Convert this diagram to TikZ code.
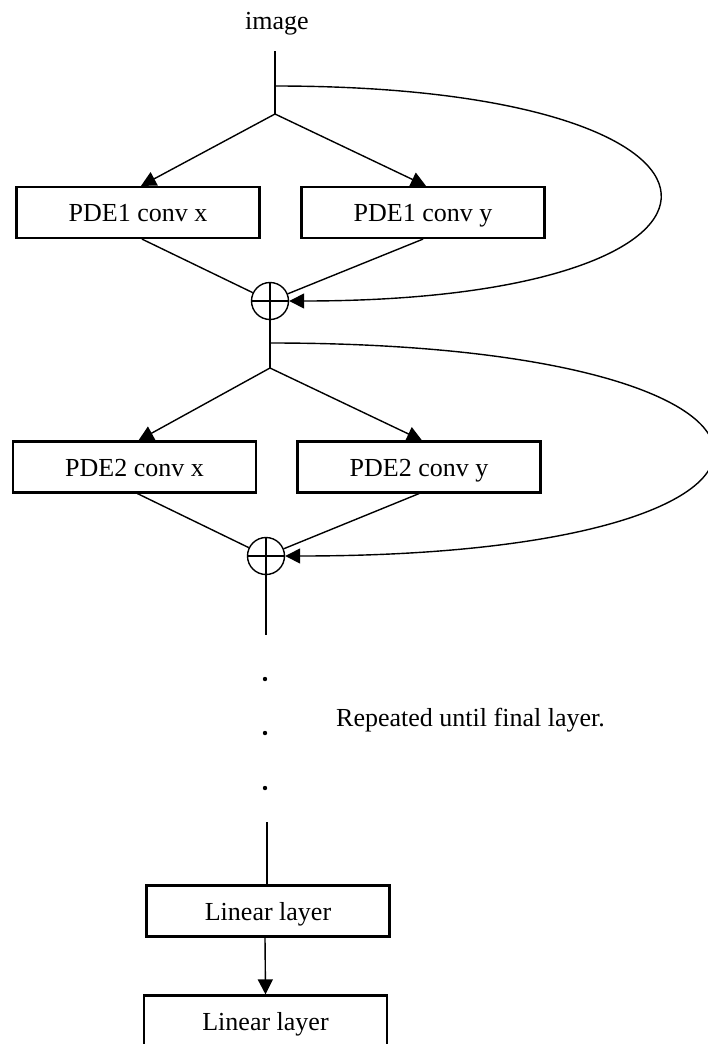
\documentclass[tikz,border=0pt]{standalone}
\usepackage{fontspec}
\setmainfont{Liberation Serif}
\usetikzlibrary{arrows.meta}

\tikzset{
    convbox/.style={draw, line width=2.2pt, fill=white, minimum width=243pt, minimum height=51pt,
        inner sep=0pt, text height=18pt, text depth=0pt},
    sumnode/.style={draw, circle, line width=1.4pt, fill=white, minimum size=37pt, inner sep=0pt,
        path picture={\draw[line width=1.4pt] (path picture bounding box.north) -- (path picture bounding box.south)
            (path picture bounding box.west) -- (path picture bounding box.east);}},
    link/.style={line width=1.4pt},
    arr/.style={-{Triangle[length=15pt,width=15pt]}}
}

\begin{document}
\begin{tikzpicture}[x=1pt, y=-1pt, font=\fontsize{26}{30}\selectfont]
        \useasboundingbox (0,0) rectangle (707,1044);

        % Input
        \node[anchor=base] (img) at (277,29) {image};
        \coordinate (in1) at (275,51);
        \coordinate (sk1) at (275,86);
        \coordinate (br1) at (275,114);

        % PDE1 block
        \node[convbox] (px1) at (138,212.5) {PDE1 conv x};
        \node[convbox] (py1) at (423,212.5) {PDE1 conv y};
        \node[sumnode] (sum1) at (270,301) {};

        \draw[link] (in1) -- (br1);
        \draw[link, arr] (br1) -- ([xshift=3pt]px1.north);
        \draw[link, arr] (br1) -- ([xshift=3pt]py1.north);
        \draw[link] ([xshift=4pt]px1.south) -- (sum1);
        \draw[link] (py1.south) -- (sum1);
        \draw[link, arr] (sk1) .. controls +(508,0) and +(498,0) .. (sum1.east);

        % PDE2 block
        \coordinate (sk2) at (270,343);
        \coordinate (br2) at (270,368);
        \node[convbox] (px2) at (134.5,467) {PDE2 conv x};
        \node[convbox] (py2) at (419,467) {PDE2 conv y};
        \node[sumnode] (sum2) at (266,556) {};
        \coordinate (out2) at (266,635);

        \draw[link] (sum1.south) -- (br2);
        \draw[link, arr] (br2) -- ([xshift=4pt]px2.north);
        \draw[link, arr] (br2) -- ([xshift=3pt]py2.north);
        \draw[link] ([xshift=3pt]px2.south) -- (sum2);
        \draw[link] (py2.south) -- (sum2);
        \draw[link, arr] (sk2) .. controls +(582,0) and +(577,0) .. (sum2.east);
        \draw[link] (sum2.south) -- (out2);

        % Repeated layers
        \foreach \y in {679,733,788}
            \fill (265,\y) circle (2.2pt);
        \node[anchor=base] (rep) at (470.5,726) {Repeated until final layer.};

        % Linear layers
        \coordinate (in3) at (267,822);
        \node[convbox] (lin1) at (268,911) {Linear layer};
        \node[convbox] (lin2) at (265.5,1021) {Linear layer};

        \draw[link] (in3) -- ([xshift=-1pt]lin1.north);
        \draw[link, arr] ([xshift=-3pt]lin1.south) -- (lin2.north);
    \end{tikzpicture}
\end{document}
